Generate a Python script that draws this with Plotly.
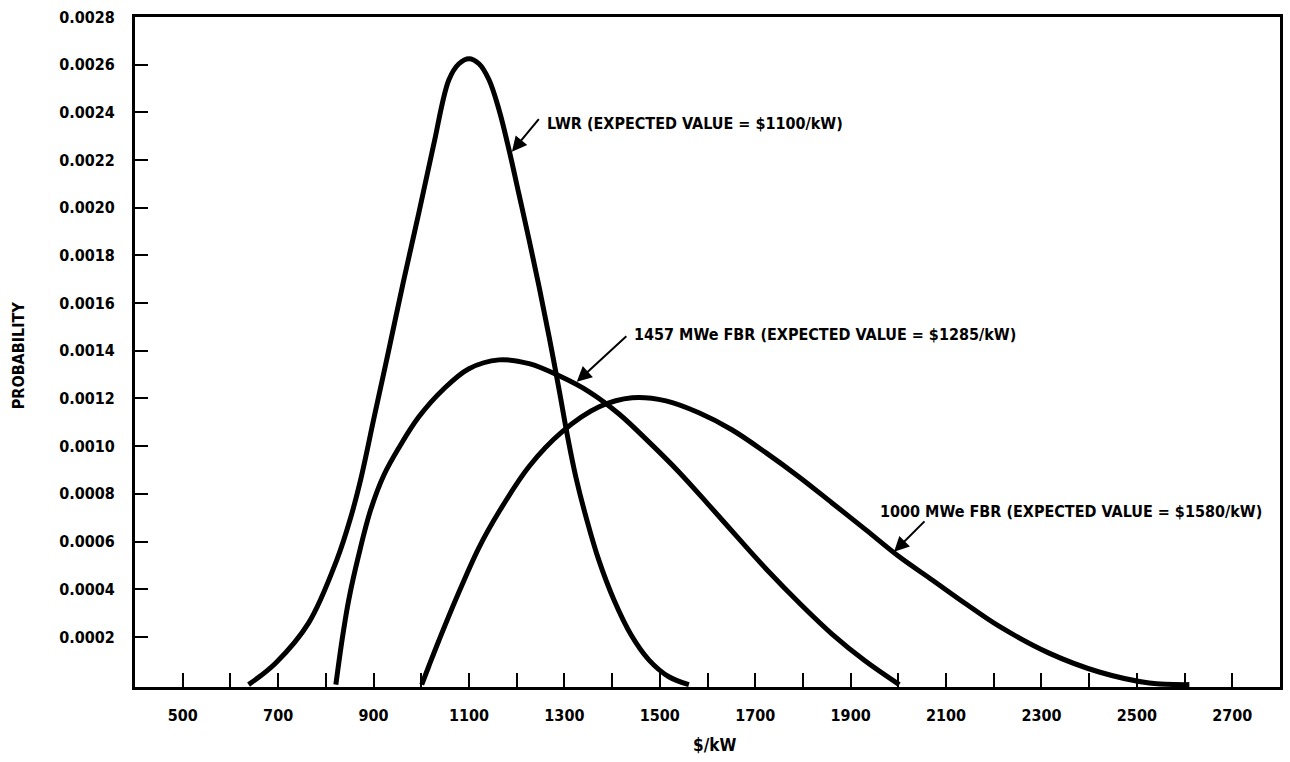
import plotly.graph_objects as go

# ---- data ----
lwr_x = [638, 695, 764, 823, 852, 873, 901, 932, 963, 995, 1026, 1058, 1079, 1100, 1121, 1142,
         1163, 1184, 1205, 1226, 1247, 1268, 1289, 1306, 1324, 1347, 1372, 1404, 1440, 1477, 1519, 1561]
lwr_y = [0.0, 0.000091, 0.000259, 0.000523, 0.0007, 0.00086, 0.001119, 0.001404, 0.001694, 0.001979,
         0.002264, 0.002537, 0.002604, 0.002625, 0.002604, 0.002537, 0.002411, 0.002243, 0.002055,
         0.001866, 0.001669, 0.001459, 0.001236, 0.001048, 0.000871, 0.000691, 0.000523, 0.000355,
         0.000208, 0.000104, 0.000033, 0.0]

fbr1457_x = [821, 834, 848, 869, 894, 922, 953, 995, 1047, 1100, 1163, 1226, 1289, 1352, 1414, 1477,
             1540, 1603, 1666, 1729, 1792, 1861, 1930, 2002]
fbr1457_y = [0.0, 0.000187, 0.000355, 0.000544, 0.000733, 0.00088, 0.000993, 0.001123, 0.00124,
             0.001325, 0.001362, 0.001346, 0.001295, 0.001228, 0.001136, 0.001018, 0.000892, 0.000753,
             0.000611, 0.000472, 0.000343, 0.000212, 0.0001, 0.0]

fbr1000_x = [1001, 1016, 1037, 1073, 1121, 1163, 1226, 1295, 1373, 1442, 1513, 1582, 1651, 1723, 1792,
             1861, 1932, 2002, 2071, 2142, 2211, 2316, 2421, 2526, 2610]
fbr1000_y = [0.0, 0.000078, 0.000185, 0.00036, 0.000575, 0.000725, 0.000915, 0.00106, 0.001165, 0.001203,
             0.00119, 0.00114, 0.001069, 0.000972, 0.000871, 0.000762, 0.000649, 0.000536, 0.000439,
             0.000338, 0.000245, 0.000132, 0.000053, 0.000007, 0.0]

x_tickvals = list(range(500, 2701, 100))
x_ticktext = [str(v) if (v // 100) % 2 == 1 else "" for v in x_tickvals]
y_tickvals = [0.0002, 0.0004, 0.0006, 0.0008, 0.0010, 0.0012, 0.0014, 0.0016, 0.0018, 0.0020, 0.0022, 0.0024, 0.0026, 0.0028]
y_ticktext = ["0.0002", "0.0004", "0.0006", "0.0008", "0.0010", "0.0012", "0.0014", "0.0016", "0.0018", "0.0020", "0.0022", "0.0024", "0.0026", "0.0028"]

labels = [
    "LWR (EXPECTED VALUE = $1100/kW)",
    "1457 MWe FBR (EXPECTED VALUE = $1285/kW)",
    "1000 MWe FBR (EXPECTED VALUE = $1580/kW)",
]

FONT = "Liberation Sans Narrow, DejaVu Sans Condensed, Arial Narrow, sans-serif"

fig = go.Figure()
for xs, ys, name in [(lwr_x, lwr_y, "LWR"), (fbr1457_x, fbr1457_y, "1457 MWe FBR"), (fbr1000_x, fbr1000_y, "1000 MWe FBR")]:
    fig.add_trace(go.Scatter(x=xs, y=ys, mode="lines", name=name,
                             line=dict(color="black", width=5, shape="spline", smoothing=1.0)))

# arrows (head -> tail in data coordinates)
arrows = [
    (1190, 0.002235, 1249, 0.002378),
    (1326, 0.00127, 1433, 0.001467),
    (1991, 0.000557, 2058, 0.000691),
]
for hx, hy, tx, ty in arrows:
    fig.add_annotation(x=hx, y=hy, ax=tx, ay=ty, axref="x", ayref="y", xref="x", yref="y",
                       text="", showarrow=True, arrowhead=2, arrowsize=1.5, arrowwidth=2,
                       arrowcolor="black", standoff=0, startstandoff=0)

text_pos = [(1259, 0.002353), (1442, 0.001467), (1958, 0.000724)]
for (tx, ty), lab in zip(text_pos, labels):
    fig.add_annotation(x=tx, y=ty, xref="x", yref="y", text=lab, showarrow=False,
                       xanchor="left", yanchor="middle",
                       font=dict(family=FONT, size=16, color="black", weight="bold"))

fig.add_annotation(x=-0.102, y=0.4955, xref="paper", yref="paper", text="PROBABILITY",
                   textangle=-90, showarrow=False, xanchor="center", yanchor="middle",
                   font=dict(family=FONT, size=16, color="black", weight="bold"))
fig.add_annotation(x=0.506, y=-0.0866, xref="paper", yref="paper", text="$/kW",
                   showarrow=False, xanchor="center", yanchor="middle",
                   font=dict(family=FONT, size=17, color="black", weight="bold"))

fig.update_layout(
    width=1290, height=762,
    margin=dict(l=135, r=7, t=17, b=75),
    paper_bgcolor="white", plot_bgcolor="white",
    showlegend=False,
    font=dict(family=FONT, size=16, color="black", weight="bold"),
)
fig.update_xaxes(range=[400, 2800], tickmode="array", tickvals=x_tickvals, ticktext=x_ticktext,
                 ticks="inside", ticklen=14, tickwidth=2, tickcolor="black",
                 showline=True, linecolor="black", linewidth=3, mirror=True,
                 showgrid=False, zeroline=False, ticklabelstandoff=12)
fig.update_yaxes(range=[-0.00001, 0.0028], tickmode="array", tickvals=y_tickvals, ticktext=y_ticktext,
                 ticks="inside", ticklen=13, tickwidth=2, tickcolor="black",
                 showline=True, linecolor="black", linewidth=3, mirror=True,
                 showgrid=False, zeroline=False, ticklabelstandoff=14)

fig.write_html("out.html")
